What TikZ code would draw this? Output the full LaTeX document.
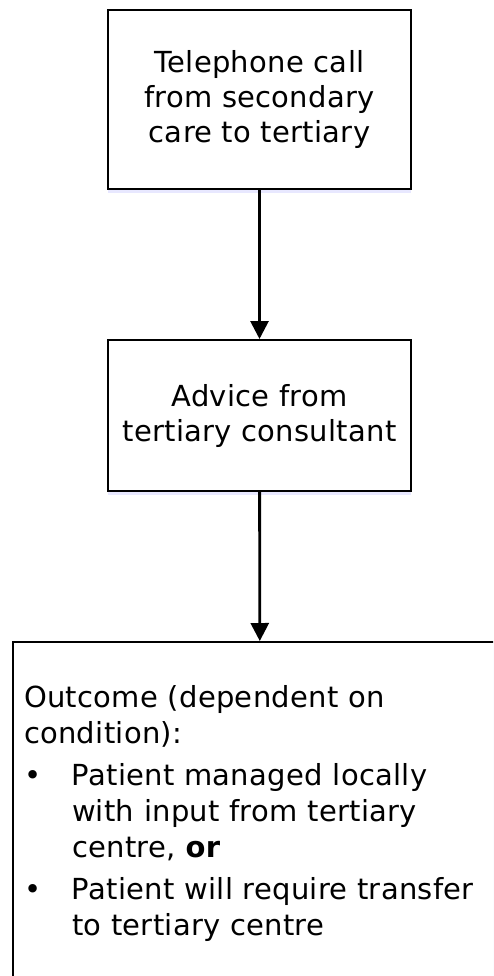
\documentclass[tikz,border=0pt]{standalone}
\usepackage{fontspec}
\setmainfont{DejaVu Sans}[LetterSpace=1]
\usetikzlibrary{arrows.meta,positioning,shadows}

\tikzset{
  flowbox/.style={draw=black, line width=2pt, fill=white, align=center,
    font=\fontsize{29}{35}\selectfont,
    drop shadow={shadow xshift=0pt, shadow yshift=-4pt, fill=blue!15, opacity=0.6}},
  flowarrow/.style={line width=2.8pt, -{Triangle[width=18pt,length=18pt]}}
}
\newcommand{\bul}{\makebox[48pt][l]{\textbullet}}
\newcommand{\ind}{\hspace*{48pt}}

\begin{document}
\begin{tikzpicture}[x=1pt,y=-1pt]
\path[use as bounding box, clip] (0,0) rectangle (493,976);

% boxes
\node[flowbox, minimum width=303pt, minimum height=179pt] (call) at (259.5,99.5)
  {Telephone call\\from secondary\\care to tertiary};
\node[flowbox, minimum width=303pt, minimum height=151pt] (advice) at (259.5,415.5)
  {Advice from\\tertiary consultant};
\node[flowbox, minimum width=494pt, minimum height=342pt, inner xsep=11pt,
  text width=472pt, align=left, font=\fontsize{29}{36}\selectfont] (outcome) at (260,813)
  {Outcome (dependent on\\
   condition):\\[6pt]
   \bul Patient managed locally\\
   \ind with input from tertiary\\
   \ind centre, \textbf{or}\\[6pt]
   \bul Patient will require transfer\\
   \ind to tertiary centre};

% arrows
\draw[flowarrow] (call) -- (advice);
\draw[flowarrow] (advice) -- (outcome);
\end{tikzpicture}
\end{document}
